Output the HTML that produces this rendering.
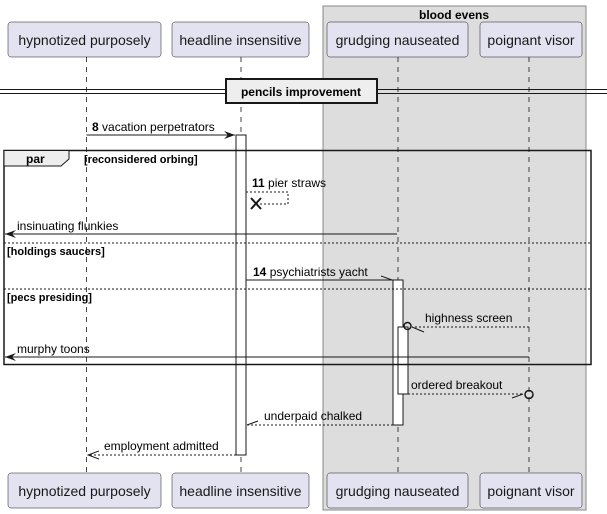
<!DOCTYPE html>
<html><head><meta charset="utf-8"><style>
html,body{margin:0;padding:0;background:#fff}
svg{display:block;font-family:"Liberation Sans",sans-serif}
</style></head><body>
<svg width="607" height="514" viewBox="0 0 607 514" xmlns="http://www.w3.org/2000/svg">
<defs>
<marker id="af" markerWidth="12" markerHeight="10" refX="11" refY="5" orient="auto" markerUnits="userSpaceOnUse"><path d="M0,1 L11,5 L0,9 L4,5 Z" fill="#181818"/></marker>
<marker id="ao" markerWidth="12" markerHeight="10" refX="11" refY="5" orient="auto" markerUnits="userSpaceOnUse"><path d="M0,1 L11,5 L0,9" fill="none" stroke="#181818"/></marker>
</defs>
<rect x="323" y="6" width="263" height="504" fill="#dddddd" stroke="#888" stroke-width="1"/>
<text x="454" y="19" font-size="12" font-weight="bold" text-anchor="middle">blood evens</text>
<g stroke="#181818" stroke-dasharray="5,5" stroke-width="0.8">
<line x1="86.5" y1="57" x2="86.5" y2="473"/>
<line x1="241" y1="57" x2="241" y2="473"/>
<line x1="398" y1="57" x2="398" y2="473"/>
<line x1="529" y1="57" x2="529" y2="473"/>
</g>
<g fill="#e2e2f0" stroke="#181818" stroke-width="0.5">
<rect x="8" y="22" width="153" height="35" rx="3"/><rect x="172" y="22" width="137" height="35" rx="3"/>
<rect x="327" y="22" width="141" height="35" rx="3"/><rect x="480" y="22" width="102" height="35" rx="3"/>
<rect x="8" y="473" width="153" height="35" rx="3"/><rect x="172" y="473" width="137" height="35" rx="3"/>
<rect x="327" y="473" width="141" height="35" rx="3"/><rect x="480" y="473" width="102" height="35" rx="3"/>
</g>
<g font-size="14" text-anchor="middle" fill="#181818">
<text x="84.5" y="45">hypnotized purposely</text><text x="240.5" y="45">headline insensitive</text>
<text x="397.5" y="45">grudging nauseated</text><text x="531" y="45">poignant visor</text>
<text x="84.5" y="496">hypnotized purposely</text><text x="240.5" y="496">headline insensitive</text>
<text x="397.5" y="496">grudging nauseated</text><text x="531" y="496">poignant visor</text>
</g>
<line x1="0" y1="89.5" x2="607" y2="89.5" stroke="#181818"/>
<line x1="0" y1="93.5" x2="607" y2="93.5" stroke="#181818"/>
<rect x="226" y="79" width="151" height="24" fill="#eee" stroke="#181818" stroke-width="2"/>
<text x="301" y="96" font-size="12" font-weight="bold" text-anchor="middle">pencils improvement</text>
<!-- activations -->
<rect x="236" y="135" width="10" height="320" fill="#fff" stroke="#181818"/>
<rect x="393" y="280" width="10" height="145" fill="#fff" stroke="#181818"/>
<rect x="398" y="327" width="10" height="67" fill="#fff" stroke="#181818"/>
<!-- msg 8 -->
<line x1="86.5" y1="135" x2="235" y2="135" stroke="#181818" marker-end="url(#af)"/>
<text x="92" y="131" font-size="12"><tspan font-weight="bold">8</tspan> vacation perpetrators</text>
<!-- par frame -->
<rect x="4" y="150.5" width="587" height="214" fill="none" stroke="#181818" stroke-width="1.5"/>
<path d="M4,150.5 H69 V159 L61,166 H4 Z" fill="#eee" stroke="#181818"/>
<text x="26" y="163" font-size="12" font-weight="bold">par</text>
<text x="84" y="163" font-size="11" font-weight="bold">[reconsidered orbing]</text>
<!-- 11 -->
<path d="M246,192 H288 V204 H257" fill="none" stroke="#181818" stroke-dasharray="2,2"/>
<path d="M251,198 L261,209 M251,209 L261,198" stroke="#181818" stroke-width="2"/>
<text x="252" y="187" font-size="12"><tspan font-weight="bold">11</tspan> pier straws</text>
<!-- insinuating -->
<line x1="397" y1="234" x2="5" y2="234" stroke="#181818" marker-end="url(#af)"/>
<text x="17" y="230" font-size="12">insinuating flunkies</text>
<line x1="4" y1="243" x2="591" y2="243" stroke="#181818" stroke-dasharray="2,2"/>
<text x="7" y="255" font-size="11" font-weight="bold">[holdings saucers]</text>
<!-- 14 -->
<path d="M246,280 H393" fill="none" stroke="#181818"/>
<line x1="381" y1="276" x2="392" y2="280" stroke="#181818"/>
<text x="253" y="276" font-size="12"><tspan font-weight="bold">14</tspan> psychiatrists yacht</text>
<line x1="4" y1="289" x2="591" y2="289" stroke="#181818" stroke-dasharray="2,2"/>
<text x="7" y="301" font-size="11" font-weight="bold">[pecs presiding]</text>
<!-- highness -->
<line x1="529" y1="327" x2="412" y2="327" stroke="#181818" stroke-dasharray="2,2"/>
<line x1="412" y1="327" x2="424" y2="332" stroke="#181818"/>
<circle cx="407.5" cy="326" r="3.5" fill="none" stroke="#181818" stroke-width="1.5"/>
<text x="425" y="322" font-size="12">highness screen</text>
<!-- murphy -->
<line x1="529" y1="357" x2="5" y2="357" stroke="#181818" marker-end="url(#af)"/>
<text x="17" y="353" font-size="12">murphy toons</text>
<!-- ordered -->
<line x1="408" y1="394" x2="524" y2="394" stroke="#181818" stroke-dasharray="2,2"/>
<line x1="512" y1="398" x2="523" y2="394" stroke="#181818"/>
<circle cx="529" cy="394.5" r="4" fill="none" stroke="#181818" stroke-width="1.5"/>
<text x="411" y="389" font-size="12">ordered breakout</text>
<!-- underpaid -->
<line x1="393" y1="425" x2="247" y2="425" stroke="#181818" stroke-dasharray="2,2"/>
<line x1="247" y1="425" x2="258" y2="421" stroke="#181818"/>
<text x="264" y="420" font-size="12">underpaid chalked</text>
<!-- employment -->
<line x1="236" y1="455" x2="88" y2="455" stroke="#181818" stroke-dasharray="2,2" marker-end="url(#ao)"/>
<text x="104" y="450" font-size="12">employment admitted</text>
</svg>
</body></html>
